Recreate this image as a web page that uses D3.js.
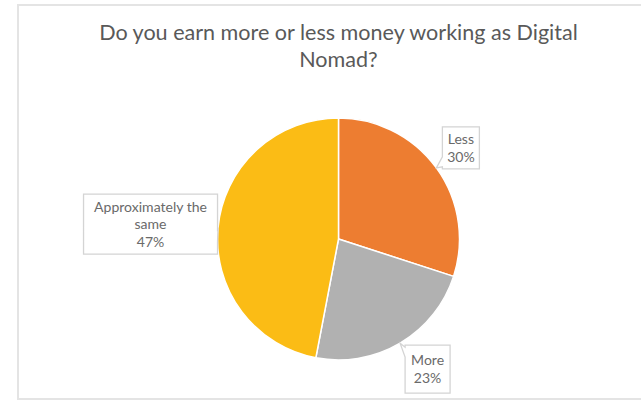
<!DOCTYPE html>
<html>
<head>
<meta charset="utf-8">
<script src="https://cdn.jsdelivr.net/npm/d3@7"></script>
<style>
  html, body { margin: 0; padding: 0; background: #fff; }
  svg { display: block; }
</style>
</head>
<body>
<svg id="chart" width="641" height="409"></svg>
<script>
// Survey answers, in clockwise order from 12 o'clock
const categories = ["Less", "More", "Approximately the same"];
const labelLines = [["Less"], ["More"], ["Approximately the", "same"]];
const shares = [30, 23, 47];
const sliceColors = ["#ED7D31", "#B1B1B1", "#FBBC15"];
const titleLines = ["Do you earn more or less money working as Digital", "Nomad?"];

const svg = d3.select("#chart");
const W = 641, H = 409;
const FONT = "Lato, 'Open Sans', 'Noto Sans', sans-serif";
const TEXT = "#595959";

// chart frame
svg.append("rect")
  .attr("x", 18).attr("y", 5)
  .attr("width", W).attr("height", 394)
  .attr("fill", "#fff")
  .attr("stroke", "#e4e4e4").attr("stroke-width", 2);

// title, fitted to the frame's text block width
const title = svg.append("g").attr("font-family", FONT).attr("fill", TEXT);
const t1 = title.append("text").attr("x", 338.5).attr("y", 40)
  .attr("text-anchor", "middle").attr("font-size", 20).text(titleLines[0]);
const tw = t1.node().getComputedTextLength();
const titleSize = 20 * 479 / tw;
t1.attr("font-size", titleSize);
title.append("text").attr("x", 338.5).attr("y", 67)
  .attr("text-anchor", "middle").attr("font-size", titleSize).text(titleLines[1]);

// pie
const cx = 338.5, cy = 239, r = 121;
const data = categories.map((c, i) => ({ name: c, value: shares[i], color: sliceColors[i], lines: labelLines[i] }));
const pie = d3.pie().value(d => d.value).sort(null);
const arcs = pie(data);
const arc = d3.arc().innerRadius(0).outerRadius(r);

const g = svg.append("g").attr("transform", `translate(${cx},${cy})`);
g.selectAll("path.slice").data(arcs).join("path")
  .attr("class", "slice")
  .attr("d", arc)
  .attr("fill", d => d.data.color)
  .attr("stroke", "#fff").attr("stroke-width", 1.5)
  .attr("stroke-linejoin", "round");

// callout boxes: offset of the box centre from the rim point, box size, pointer base shift
const calloutLayout = [
  { dx: 24.5, dy: -20, w: 37, h: 42, shift: -6 },
  { dx: 27.5, dy: 26, w: 45, h: 48, shift: 8 },
  { dx: -67.5, dy: -3.5, w: 134, h: 60, shift: 9 }
];

function clamp(v, a, b) { return Math.max(a, Math.min(b, v)); }

function calloutPath(x, y, w, h, tx, ty, shift) {
  const half = 5;
  if (tx < x) {
    const bc = clamp(ty + shift, y + half + 2, y + h - half - 2);
    return `M${x},${y}H${x + w}V${y + h}H${x}V${bc + half}L${tx},${ty}L${x},${bc - half}Z`;
  }
  if (tx > x + w) {
    const bc = clamp(ty + shift, y + half + 2, y + h - half - 2);
    return `M${x},${y}H${x + w}V${bc - half}L${tx},${ty}L${x + w},${bc + half}V${y + h}H${x}Z`;
  }
  if (ty < y) {
    const bc = clamp(tx + shift, x + half + 2, x + w - half - 2);
    return `M${x},${y}H${bc - half}L${tx},${ty}L${bc + half},${y}H${x + w}V${y + h}H${x}Z`;
  }
  const bc = clamp(tx + shift, x + half + 2, x + w - half - 2);
  return `M${x},${y}H${x + w}V${y + h}H${bc + half}L${tx},${ty}L${bc - half},${y + h}H${x}Z`;
}

// label font size fitted so the widest label line spans ~113px
const probe = svg.append("text").attr("font-family", FONT).attr("font-size", 12).text(labelLines[2][0]);
const labelSize = 12 * 113 / probe.node().getComputedTextLength();
probe.remove();

const labels = svg.append("g").attr("font-family", FONT).attr("font-size", labelSize);
arcs.forEach((a, i) => {
  const mid = (a.startAngle + a.endAngle) / 2;
  const tx = cx + r * Math.sin(mid);
  const ty = cy - r * Math.cos(mid);
  const L = calloutLayout[i];
  const bx = tx + L.dx - L.w / 2, by = ty + L.dy - L.h / 2;
  labels.append("path")
    .attr("d", calloutPath(bx, by, L.w, L.h, tx, ty, L.shift))
    .attr("fill", "#fff")
    .attr("stroke", "#d4d4d4").attr("stroke-width", 1.3);
  const lines = a.data.lines.concat([a.data.value + "%"]);
  const lh = 17.5;
  const ccx = bx + L.w / 2, ccy = by + L.h / 2;
  lines.forEach((ln, k) => {
    labels.append("text")
      .attr("x", ccx)
      .attr("y", ccy + (k - (lines.length - 1) / 2) * lh + labelSize * 0.36)
      .attr("text-anchor", "middle")
      .attr("fill", "#6a6a6a")
      .text(ln);
  });
});
</script>
</body>
</html>
